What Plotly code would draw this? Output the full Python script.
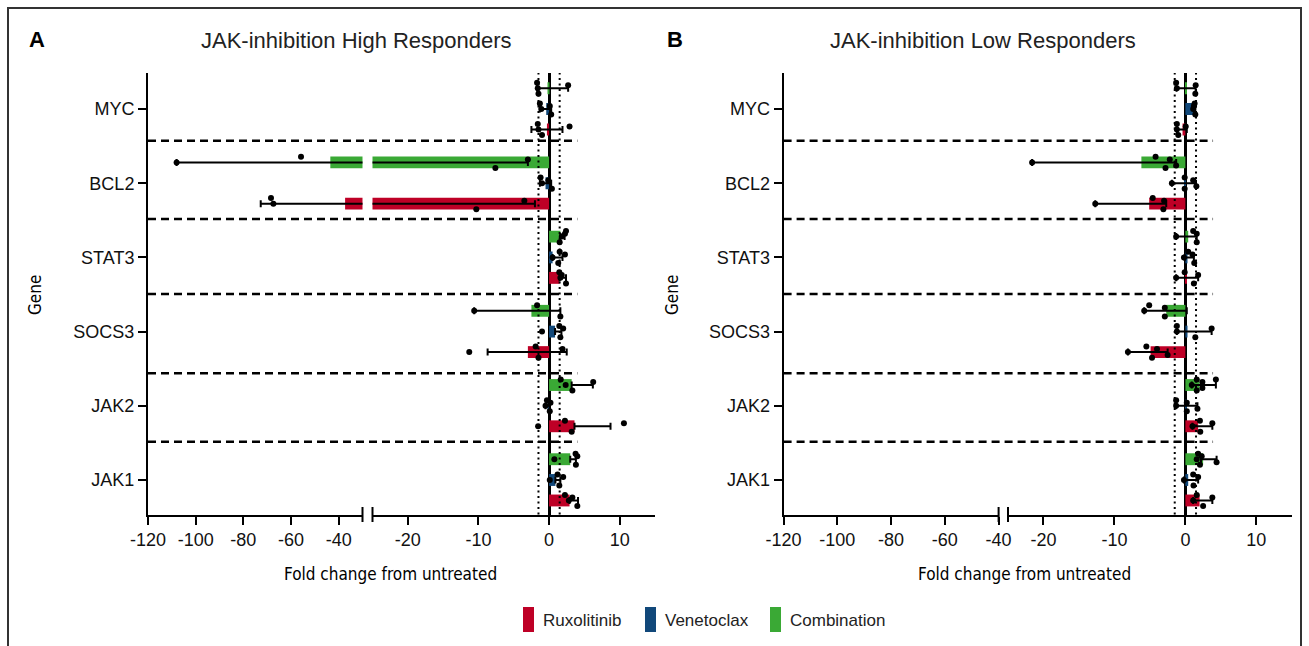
import plotly.graph_objects as go

W, H = 1309, 646

# ---------------- data ----------------
genes = ["JAK1", "JAK2", "SOCS3", "STAT3", "BCL2", "MYC"]          # bottom -> top
treatments = ["Ruxolitinib", "Venetoclax", "Combination"]
x_left_ticks = [-120, -100, -80, -60, -40]
x_right_ticks = [-20, -10, 0, 10]

# Panel A : JAK-inhibition High Responders
hi_rux_mean = [2.9, 3.6, -3.0, 1.5, -37.3, -0.3]
hi_rux_err_plus = [1.2, 5.1, 5.5, 0.9, 35.3, 2.2]
hi_rux_err_minus = [0.0, 0.0, 5.7, 0.0, 35.4, 2.2]
hi_rux_points = [[2.8, 2.25, 4.0, 3.3], [-1.55, 2.25, 3.2, 10.6], [-11.3, -1.9, -1.5, 1.9],
                 [1.6, 1.45, 2.4, 1.8], [-67.4, -68.4, -10.3, -3.5], [-1.5, -1.6, -1.0, 2.9]]

hi_ven_mean = [0.9, -0.2, 0.85, 0.5, -0.5, -0.4]
hi_ven_err_plus = [0.7, 0.3, 0.9, 1.4, 0.8, 0.7]
hi_ven_err_minus = [0.0, 0.3, 0.0, 0.0, 0.8, 0.9]
hi_ven_points = [[0.1, 1.2, 1.45, 2.0], [-0.5, -0.3, 0.1, 0.2], [-1.0, 1.45, 1.6, 2.0],
                 [0.5, 1.5, 1.3, 2.25], [-1.0, -1.2, 0.4, -0.1], [-1.1, -1.3, 0.3, 0.1]]

hi_com_mean = [3.0, 3.2, -2.5, 1.6, -43.5, -0.2]
hi_com_err_plus = [0.8, 3.0, 4.1, 0.6, 40.5, 2.9]
hi_com_err_minus = [0.0, 0.0, 8.1, 0.0, 64.5, 1.5]
hi_com_points = [[0.75, 3.75, 3.8, 4.0], [2.35, 1.65, 3.3, 6.25], [-10.6, -1.7, 1.6],
                 [1.8, 2.4, 1.5, 2.25], [-108.0, -55.8, -7.6, -3.0], [-1.6, -1.7, -1.5, 2.7]]

# Panel B : JAK-inhibition Low Responders
lo_rux_mean = [2.0, 1.8, -4.9, 0.2, -5.1, -0.4]
lo_rux_err_plus = [1.8, 2.0, 2.4, 1.6, 2.4, 0.6]
lo_rux_err_minus = [0.9, 0.8, 3.2, 1.5, 7.6, 0.8]
lo_rux_points = [[1.1, 1.6, 2.5, 3.8], [1.0, 2.05, 2.1, 3.8], [-8.1, -5.5, -4.7, -4.0, -2.5],
                 [-1.3, -0.1, 1.2, 1.8], [-12.7, -4.6, -3.1, -3.0], [-1.2, -1.2, -1.0, 0.05]]

lo_ven_mean = [0.4, 0.1, 0.3, 0.3, -0.1, 1.3]
lo_ven_err_plus = [1.4, 1.6, 3.4, 0.9, 1.6, 0.1]
lo_ven_err_minus = [0.6, 1.4, 1.5, 0.4, 1.8, 0.1]
lo_ven_points = [[-0.2, 1.1, 1.15, 1.8], [-1.3, -1.3, 0.2, 0.2, 1.7], [-1.2, -1.2, 1.4, 3.7],
                 [-0.2, 0.4, 1.25, 1.0], [-1.9, -0.1, -0.1, 1.1, 1.55], [1.1, 1.3, 1.4, 1.2]]

lo_com_mean = [2.5, 2.0, -2.7, 0.4, -6.2, 0.1]
lo_com_err_plus = [1.9, 2.3, 2.9, 1.2, 4.9, 1.35]
lo_com_err_minus = [0.3, 1.1, 3.1, 1.7, 15.4, 1.35]
lo_com_points = [[1.6, 1.8, 2.05, 2.3, 4.4], [0.9, 1.6, 1.6, 2.4, 2.4, 4.3], [-5.8, -5.1, -2.9, -2.9],
                 [-1.3, 1.1, 1.6, 1.6], [-21.6, -4.2, -2.8, -2.2, -1.3], [-1.2, -1.3, 1.4, 1.45]]

# ---------------- style ----------------
COLORS = {"Ruxolitinib": "#BE0026", "Venetoclax": "#11487A", "Combination": "#3AA935"}
OFFSETS = {"Ruxolitinib": -0.276, "Venetoclax": 0.0, "Combination": 0.28}
JIT = [0.0, 0.075, -0.075, 0.04, -0.04, 0.075]
BAR_W = 0.16
FONT = "Liberation Sans, Arial, Helvetica, sans-serif"
NARROW = "DejaVu Sans Condensed, Liberation Sans Narrow, sans-serif"

def px(x):
    return x / W

def py(y):
    return 1 - y / H

fig = go.Figure()

panels = [
    (("x", "x2"), "y", {
        "Ruxolitinib": (hi_rux_mean, hi_rux_err_plus, hi_rux_err_minus, hi_rux_points),
        "Venetoclax": (hi_ven_mean, hi_ven_err_plus, hi_ven_err_minus, hi_ven_points),
        "Combination": (hi_com_mean, hi_com_err_plus, hi_com_err_minus, hi_com_points)}),
    (("x3", "x4"), "y2", {
        "Ruxolitinib": (lo_rux_mean, lo_rux_err_plus, lo_rux_err_minus, lo_rux_points),
        "Venetoclax": (lo_ven_mean, lo_ven_err_plus, lo_ven_err_minus, lo_ven_points),
        "Combination": (lo_com_mean, lo_com_err_plus, lo_com_err_minus, lo_com_points)}),
]

for xaxes, yax, data in panels:
    for xa in xaxes:
        for t in treatments:
            mean, ep, em, pts = data[t]
            ys = [i + OFFSETS[t] for i in range(len(genes))]
            fig.add_trace(go.Bar(
                x=mean, y=ys, orientation="h", width=BAR_W, xaxis=xa, yaxis=yax,
                marker=dict(color=COLORS[t], line=dict(width=0)),
                error_x=dict(type="data", symmetric=False, array=ep, arrayminus=em,
                             color="black", thickness=2, width=3.5),
                showlegend=False, hoverinfo="skip"))
        for t in treatments:
            mean, ep, em, pts = data[t]
            xs, ys = [], []
            for i, plist in enumerate(pts):
                for j, v in enumerate(plist):
                    xs.append(v)
                    ys.append(i + OFFSETS[t] + JIT[j % len(JIT)])
            fig.add_trace(go.Scatter(
                x=xs, y=ys, mode="markers", xaxis=xa, yaxis=yax,
                marker=dict(color="black", size=6, line=dict(width=0)),
                showlegend=False, hoverinfo="skip", cliponaxis=True))

# ---------------- axes ----------------
Y_TOP, Y_BOT = 73, 514.5
common_x = dict(showline=True, linecolor="black", linewidth=2, ticks="outside", ticklen=8,
                tickwidth=2, tickcolor="black", showgrid=False, zeroline=False, automargin=False,
                tickfont=dict(size=18, family=FONT, color="#111111"), fixedrange=True)
common_y = dict(showline=True, linecolor="black", linewidth=2, ticks="outside", ticklen=8,
                tickwidth=2, tickcolor="black", showgrid=False, zeroline=False, automargin=False,
                range=[-0.465, 5.485], tickvals=list(range(len(genes))), ticktext=genes,
                tickfont=dict(size=18, family=FONT, color="#111111"),
                domain=[py(Y_BOT), py(Y_TOP)], fixedrange=True)

A_L = (148, 362.5)
A_R = (372.5, 655)
B_L = (783.6, 998.6)
B_R = (1008, 1291.8)

fig.update_layout(
    template="none",
    xaxis=dict(common_x, domain=[px(A_L[0]), px(A_L[1])], range=[-120, -30],
               tickvals=x_left_ticks, ticktext=[str(v) for v in x_left_ticks], anchor="y"),
    xaxis2=dict(common_x, domain=[px(A_R[0]), px(A_R[1])], range=[-25, 15],
                tickvals=x_right_ticks, ticktext=[str(v) for v in x_right_ticks], anchor="y",
                zeroline=True, zerolinecolor="black", zerolinewidth=2.5),
    yaxis=dict(common_y, anchor="x"),
    xaxis3=dict(common_x, domain=[px(B_L[0]), px(B_L[1])], range=[-120, -40],
                tickvals=x_left_ticks, ticktext=[str(v) for v in x_left_ticks], anchor="y2"),
    xaxis4=dict(common_x, domain=[px(B_R[0]), px(B_R[1])], range=[-25, 15],
                tickvals=x_right_ticks, ticktext=[str(v) for v in x_right_ticks], anchor="y2",
                zeroline=True, zerolinecolor="black", zerolinewidth=2.5),
    yaxis2=dict(common_y, anchor="x3"),
)

# ---------------- shapes ----------------
shapes = []
shapes.append(dict(type="rect", xref="paper", yref="paper", x0=px(8), x1=px(1301), y0=py(700), y1=py(8),
                   line=dict(color="#333333", width=2), fillcolor="rgba(0,0,0,0)", layer="below"))

sep_levels = [0.516, 1.438, 2.507, 3.518, 4.573]
for (xl0, xr_end_val, xr_dom, yref, xref2) in [
        (A_L[0], 4.0, A_R, "y", "x2"), (B_L[0], 3.9, B_R, "y2", "x4")]:
    xend = xr_dom[0] + (xr_end_val + 25) / 40 * (xr_dom[1] - xr_dom[0])
    for lv in sep_levels:
        shapes.append(dict(type="line", xref="paper", yref=yref, x0=px(xl0), x1=px(xend), y0=lv, y1=lv,
                           line=dict(color="black", width=2.5, dash="8px,5px")))
    for v in (-1.5, 1.5):
        shapes.append(dict(type="line", xref=xref2, yref=yref + " domain", x0=v, x1=v, y0=0, y1=1,
                           line=dict(color="black", width=2, dash="2px,3.5px")))

for xb in (A_L[1], A_R[0], B_L[1], B_R[0]):
    shapes.append(dict(type="line", xref="paper", yref="paper", x0=px(xb), x1=px(xb),
                       y0=py(507), y1=py(522), line=dict(color="black", width=2)))

leg = [("Ruxolitinib", 523), ("Venetoclax", 645), ("Combination", 770)]
for name, lx in leg:
    shapes.append(dict(type="rect", xref="paper", yref="paper", x0=px(lx), x1=px(lx + 11),
                       y0=py(632), y1=py(607), fillcolor=COLORS[name], line=dict(width=0)))

# ---------------- annotations ----------------
ann = []
for letter, lx in (("A", 37), ("B", 675)):
    ann.append(dict(text="<b>" + letter + "</b>", x=px(lx), y=py(39), xref="paper", yref="paper",
                    showarrow=False, font=dict(size=22, family=FONT, color="black"),
                    xanchor="center", yanchor="middle"))
ann.append(dict(text="JAK-inhibition High Responders", x=px(356), y=py(40), xref="paper", yref="paper",
                showarrow=False, font=dict(size=22, family=FONT, color="#222222"),
                xanchor="center", yanchor="middle"))
ann.append(dict(text="JAK-inhibition Low Responders", x=px(983), y=py(40), xref="paper", yref="paper",
                showarrow=False, font=dict(size=22, family=FONT, color="#222222"),
                xanchor="center", yanchor="middle"))
for cx in (390, 1024):
    ann.append(dict(text="Fold change from untreated", x=px(cx), y=py(574), xref="paper", yref="paper",
                    showarrow=False, font=dict(size=17, family=NARROW, color="black"),
                    xanchor="center", yanchor="middle"))
for gx in (35, 672):
    ann.append(dict(text="Gene", x=px(gx), y=py(295), xref="paper", yref="paper", textangle=-90,
                    showarrow=False, font=dict(size=17, family=NARROW, color="black"),
                    xanchor="center", yanchor="middle"))
for name, lx in leg:
    ann.append(dict(text=name, x=px(lx + 18), y=py(620), xref="paper", yref="paper", showarrow=False,
                    font=dict(size=17, family=FONT, color="#222222"), xanchor="left", yanchor="middle"))

fig.update_layout(
    width=W, height=H, autosize=False,
    margin=dict(l=0, r=0, t=0, b=0, pad=0, autoexpand=False),
    paper_bgcolor="white", plot_bgcolor="white",
    barmode="overlay", showlegend=False,
    font=dict(family=FONT, color="black"),
    shapes=shapes, annotations=ann,
)

fig.write_html("out.html", config={"displayModeBar": False})
